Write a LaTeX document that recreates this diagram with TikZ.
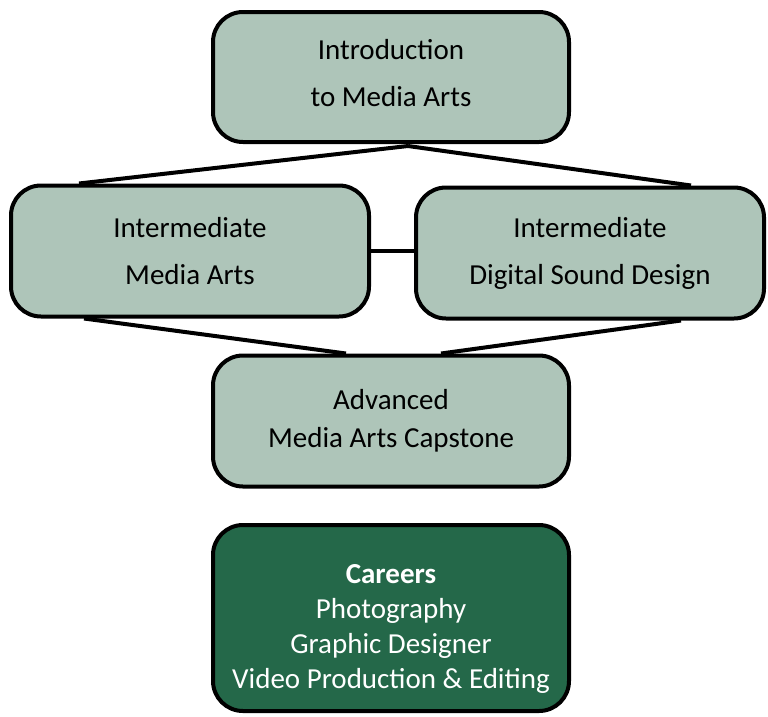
\documentclass[tikz,border=0pt]{standalone}
\usepackage{fontspec}
\setmainfont{Carlito}
\usepackage{tikz}
\usetikzlibrary{calc}
\definecolor{sage}{RGB}{174,197,185}
\definecolor{pine}{RGB}{36,104,73}
\tikzset{
  course/.style={draw=black,line width=4pt,rounded corners=30pt,fill=sage,align=center,
    inner sep=0pt,font=\fontsize{29}{47}\selectfont},
  link/.style={draw=black,line width=4pt,line cap=butt}
}

\begin{document}
\begin{tikzpicture}[line join=round,x=1pt,y=1pt]
\useasboundingbox (0,0) rectangle (768,-716);
%courses
\node[course,minimum width=356,minimum height=130] (intro) at (391,-77) {Introduction\\to Media Arts\rule[-8pt]{0pt}{0pt}};
\node[course,minimum width=358,minimum height=131] (interm) at (190,-251) {Intermediate\\Media Arts};
\node[course,minimum width=348,minimum height=131] (sound) at (590,-253) {Intermediate\\Digital Sound Design};
\node[course,minimum width=356,minimum height=131,font=\fontsize{29}{38}\selectfont] (adv) at (391,-421) {Advanced\\Media Arts Capstone};
\node[course,fill=pine,minimum width=356,minimum height=186] (careers) at (391,-618) {};
\node[text=white,align=center,font=\fontsize{29}{35}\selectfont] (jobs) at ($(careers.center)+(0,-11)$)
  {\textbf{Careers}\\Photography\\Graphic Designer\\Video Production \& Editing};
%connectors
\coordinate (apex) at ($(intro.south)+(17,-2)$);
\draw[link] (apex) -- ($(interm.north west)+(70,0)$);
\draw[link] (apex) -- ($(sound.north east)+(-75,0)$);
\draw[link] (interm.east) -- (sound.west |- interm.east);
\draw[link] ($(interm.south west)+(75,0)$) -- ($(adv.north)+(-45,0)$);
\draw[link] ($(sound.south east)+(-85,0)$) -- ($(adv.north)+(50,0)$);
\end{tikzpicture}
\end{document}
